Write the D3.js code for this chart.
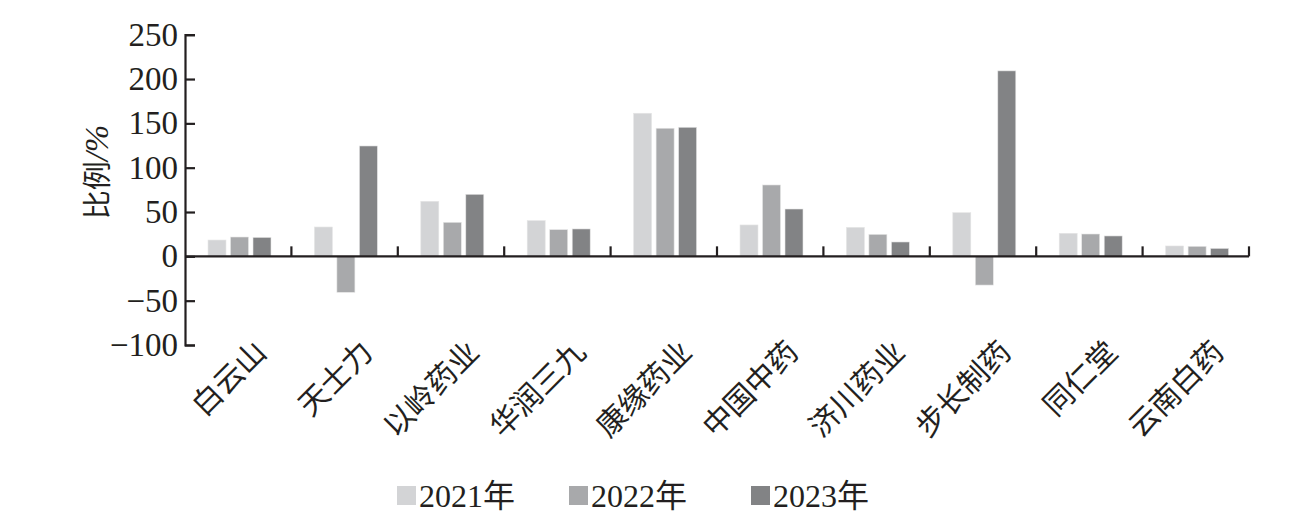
<!DOCTYPE html>
<html><head><meta charset="utf-8">
<script src="https://cdn.jsdelivr.net/npm/d3@7/dist/d3.min.js"></script>
<style>body{margin:0;background:#fff}svg{display:block}</style>
</head><body>
<script>
const categories = ["白云山","天士力","以岭药业","华润三九","康缘药业","中国中药","济川药业","步长制药","同仁堂","云南白药"];
const years = ["2021年","2022年","2023年"];
const v2021 = [18.4, 33.1, 62.1, 40.3, 161.4, 35.4, 32.7, 49.3, 26.0, 11.7];
const v2022 = [21.8, -40.6, 38.4, 30.1, 144.5, 80.5, 24.8, -32.4, 25.2, 11.3];
const v2023 = [21.4, 124.5, 70.0, 30.9, 145.6, 53.4, 16.2, 209.2, 23.0, 9.0];
const yTicks = [-100, -50, 0, 50, 100, 150, 200, 250];
const colors = ["#d3d4d6", "#a8a9ab", "#828385"];
const series = [v2021, v2022, v2023];

const W = 1302, H = 525;
const svg = d3.select("body").append("svg").attr("width", W).attr("height", H);
const serif = "'Liberation Serif','Times New Roman',serif";
const cjk = "'Noto Sans CJK SC','Liberation Serif',serif";
const mixed = "'Liberation Serif','Noto Sans CJK SC',serif";
const ink = "#231f20";

const y = d3.scaleLinear().domain([-100, 250]).range([345, 34.7]);
const x0 = d3.scaleBand().domain(categories).range([185, 1249]).padding(0);
const x1 = d3.scaleBand().domain(years).range([23, 86]).paddingInner(0.2).paddingOuter(0);

// bars
const g = svg.append("g");
categories.forEach((c, i) => {
  years.forEach((yr, j) => {
    const v = series[j][i];
    g.append("rect")
      .attr("x", x0(c) + x1(yr))
      .attr("width", x1.bandwidth())
      .attr("y", y(Math.max(0, v)))
      .attr("height", Math.abs(y(v) - y(0)))
      .attr("fill", colors[j])
      .attr("stroke", "#e6e6e6").attr("stroke-width", 0.6);
  });
});

// y axis
const yAxis = d3.axisLeft(y).tickValues(yTicks).tickSize(-10).tickPadding(8)
  .tickFormat(d => d < 0 ? "\u2212" + Math.abs(d) : d);
const ya = svg.append("g").attr("transform", "translate(185,0)").call(yAxis);
ya.select(".domain").attr("stroke", ink).attr("stroke-width", 2.2);
ya.selectAll(".tick line").attr("stroke", ink).attr("stroke-width", 2.2);
ya.selectAll(".tick text").attr("font-family", serif).attr("font-size", 33).attr("fill", ink)
  .attr("x", -7);

// x axis at zero
const xa = svg.append("g");
xa.append("line").attr("x1", 185).attr("x2", x0.range()[1]).attr("y1", y(0)).attr("y2", y(0))
  .attr("stroke", ink).attr("stroke-width", 2.2);
categories.forEach(c => {
  const xx = x0(c) + x0.bandwidth();
  xa.append("line").attr("x1", xx).attr("x2", xx).attr("y1", y(0)).attr("y2", y(0) - 10)
    .attr("stroke", ink).attr("stroke-width", 2.2);
});

// category labels
categories.forEach(c => {
  const cx = x0(c) + x0.bandwidth() / 2 + 30;
  svg.append("text")
    .attr("transform", `translate(${cx},${354}) rotate(-45)`)
    .attr("text-anchor", "end")
    .attr("font-family", cjk).attr("font-size", 30).attr("fill", ink)
    .text(c);
});

// y title
const yt = svg.append("text")
  .attr("transform", "translate(108,172) rotate(-90)")
  .attr("text-anchor", "middle")
  .attr("fill", ink);
yt.append("tspan").attr("font-family", cjk).attr("font-size", 29).text("比例");
yt.append("tspan").attr("font-family", serif).attr("font-style", "italic").attr("font-size", 33).text("/%");

// legend
const legX = [397, 569, 751];
years.forEach((yr, j) => {
  svg.append("rect").attr("x", legX[j]).attr("y", 486).attr("width", 19).attr("height", 19)
    .attr("fill", colors[j]);
  svg.append("text").attr("x", legX[j] + 22).attr("y", 507)
    .attr("font-family", mixed).attr("font-size", 32).attr("fill", ink)
    .text(yr);
});
</script>
</body></html>
